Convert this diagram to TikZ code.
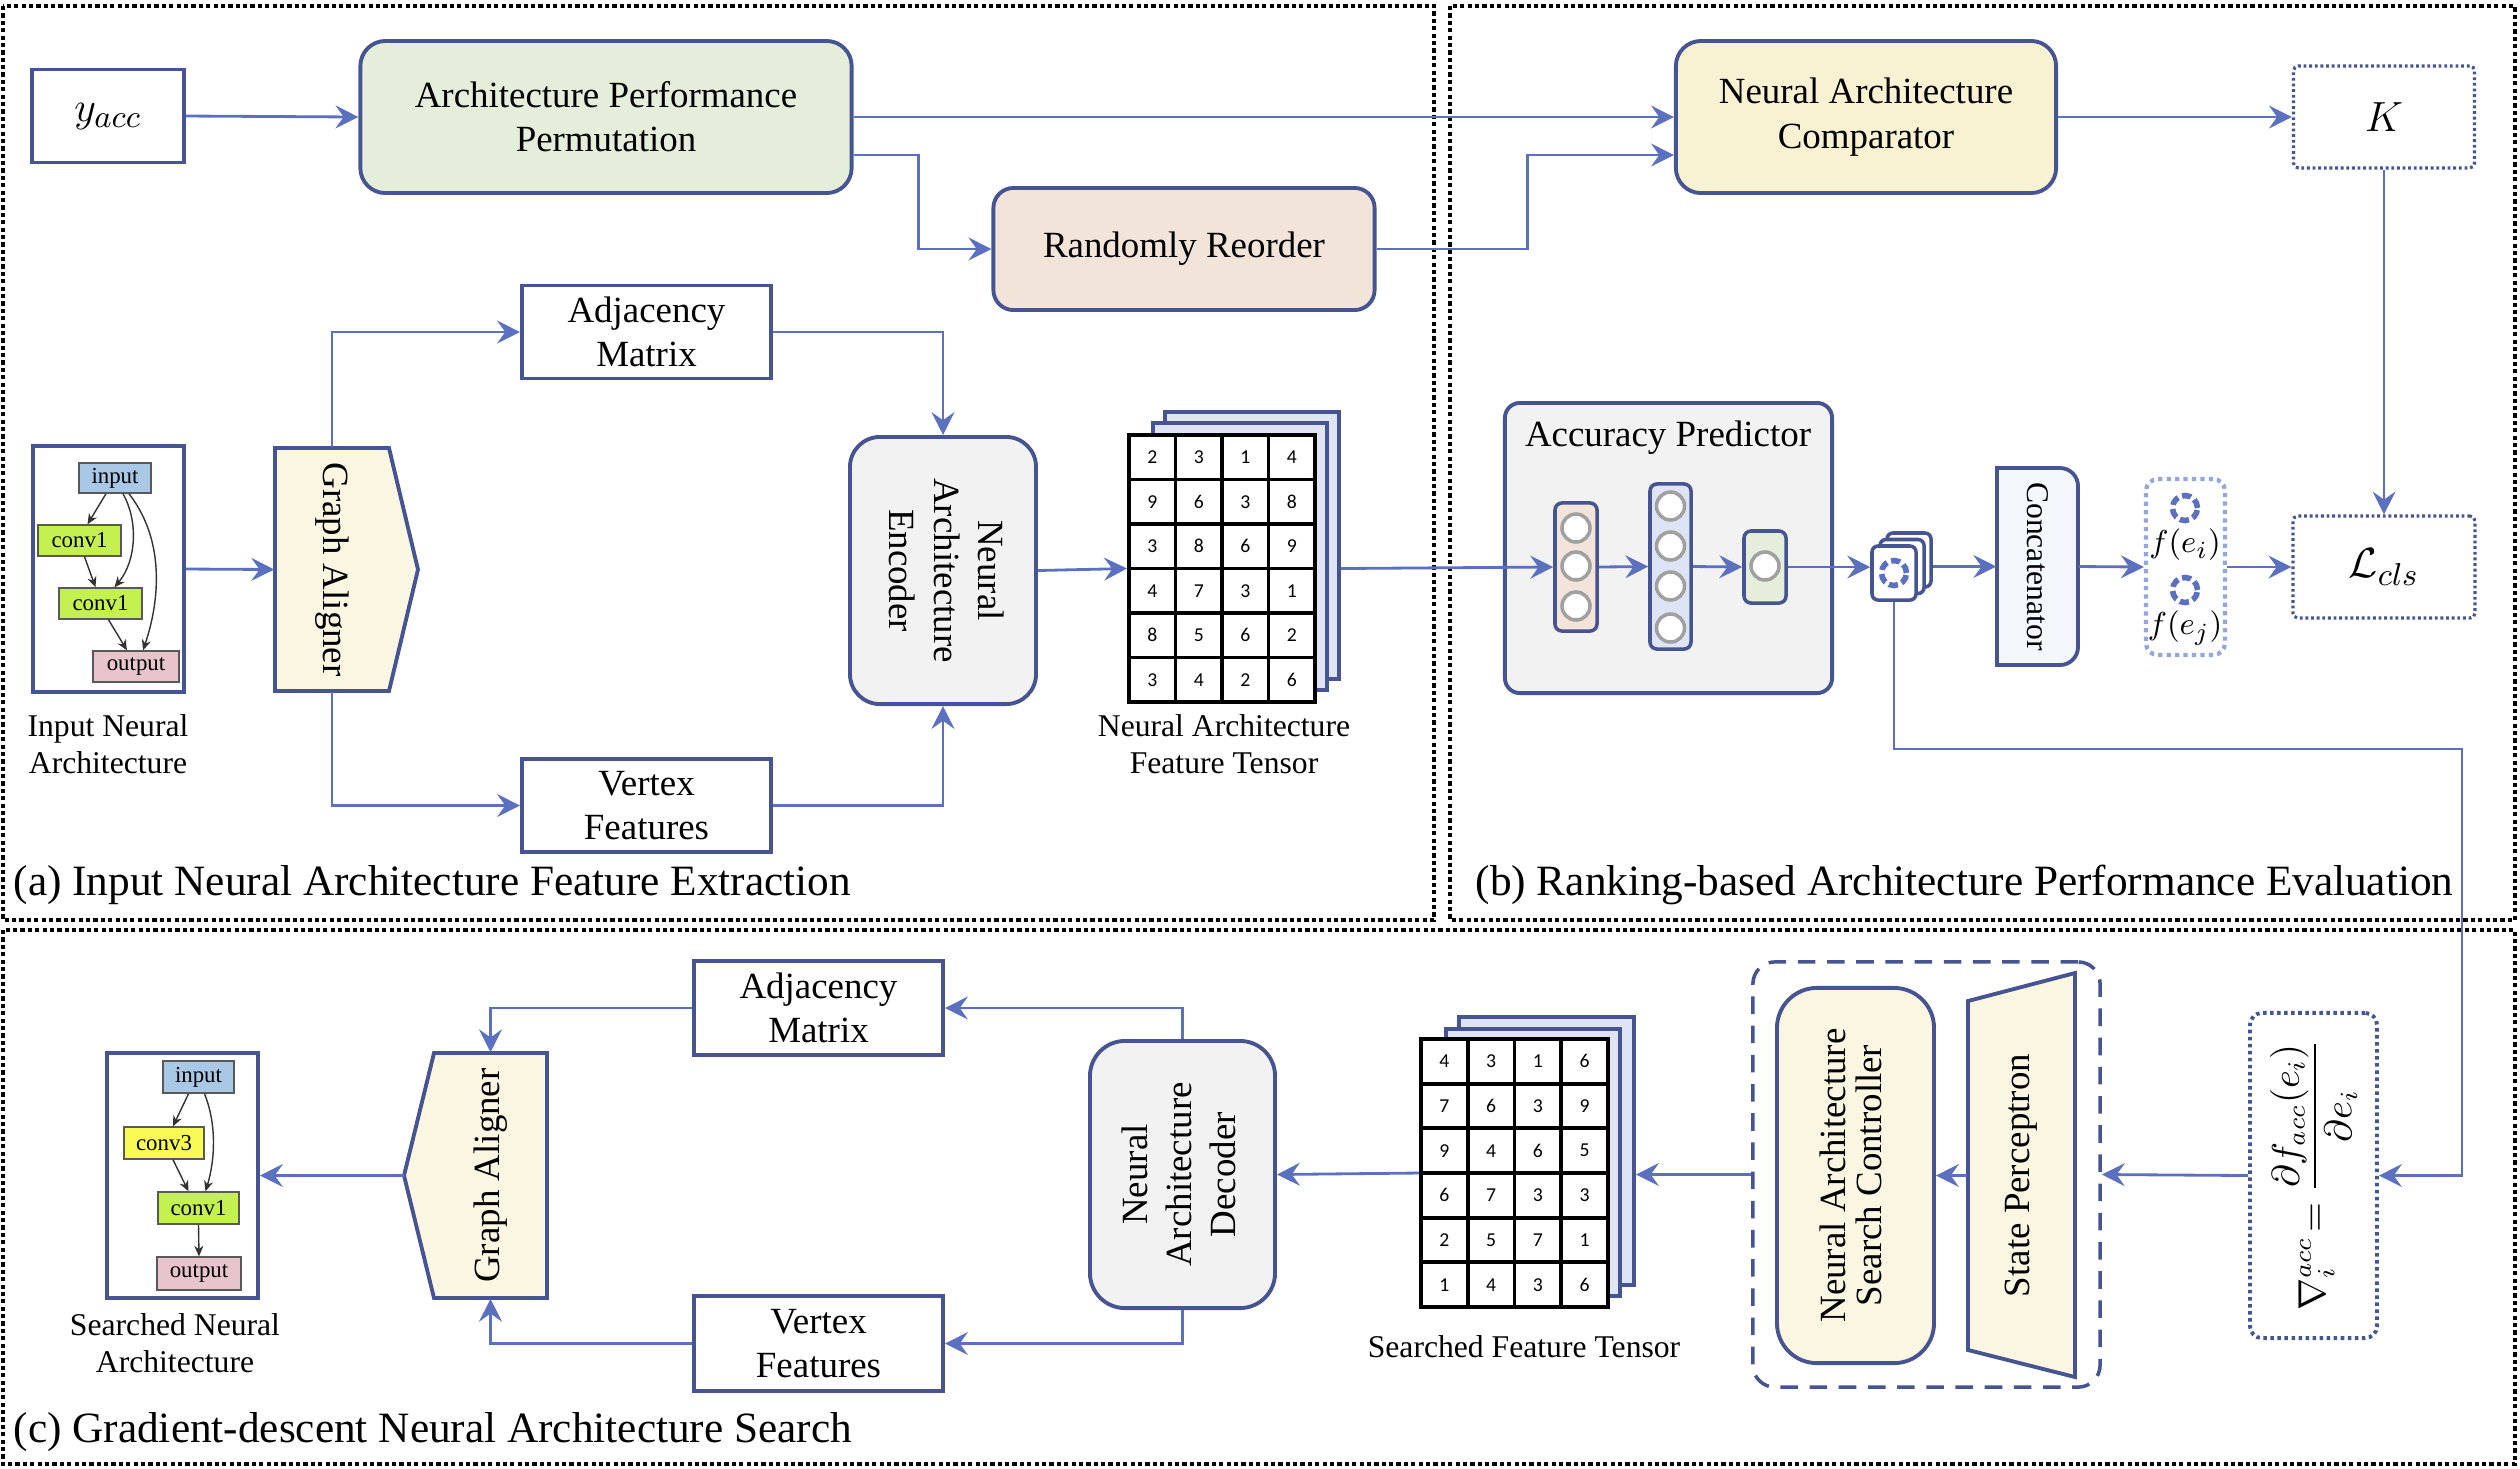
\documentclass[tikz,border=0pt]{standalone}
\usepackage{fontspec}
\setmainfont{Liberation Serif}
\newfontfamily\numfont{Carlito}
\usepackage{amsmath}
\usepackage{graphicx}
\usetikzlibrary{arrows.meta,calc}
\definecolor{navy}{RGB}{70,84,145}
\definecolor{arrowblue}{RGB}{92,112,192}
\definecolor{cgreen}{RGB}{228,238,219}
\definecolor{cyellow}{RGB}{248,242,210}
\definecolor{cpeach}{RGB}{242,228,216}
\definecolor{cgray}{RGB}{242,242,242}
\definecolor{ccream}{RGB}{250,246,226}
\definecolor{clayer}{RGB}{222,228,243}
\definecolor{cbluel}{RGB}{244,248,252}
\definecolor{fdot}{RGB}{150,165,220}
\definecolor{graycircle}{RGB}{160,160,160}
\definecolor{gblue}{RGB}{168,200,230}
\definecolor{glime}{RGB}{196,240,80}
\definecolor{gyellow}{RGB}{250,250,85}
\definecolor{gpink}{RGB}{232,196,204}
\tikzset{
 base/.style={font=\fontsize{10.5}{12.6}\selectfont, align=center, inner sep=0pt},
 box/.style={base, draw=navy, line width=1.1pt, fill=white},
 rbox/.style={box, rounded corners=0.25cm},
 arr/.style={draw=arrowblue, line width=0.8pt, -{Stealth[length=6.5pt,width=6.5pt,inset=2.3pt]}},
 secbox/.style={draw=black, line width=0.9pt, dash pattern=on 1.2pt off 0.9pt},
 seclabel/.style={font=\fontsize{12.3}{14.6}\selectfont, anchor=west, inner sep=0pt},
 smalltxt/.style={font=\fontsize{9}{10.6}\selectfont, align=center, inner sep=0pt},
 dotbox/.style={base, draw=navy, line width=0.9pt, dash pattern=on 0.8pt off 0.8pt, rounded corners=0.05cm},
 tlayer/.style={draw=navy, line width=1.1pt, fill=clayer, inner sep=0pt},
 gnode/.style={draw=black!65, line width=0.4pt, inner sep=0pt, font=\fontsize{6.5}{7}\selectfont},
 garr/.style={draw=black!80, line width=0.4pt, -{Stealth[length=3pt,width=2.6pt]}},
 nn/.style={circle, draw=graycircle, line width=1pt, fill=white, minimum size=0.28cm, inner sep=0pt},
 nlay/.style={draw=navy, line width=1pt, rounded corners=0.07cm, inner sep=0pt},
 num/.style={font=\numfont\fontsize{5.6}{6}\selectfont, inner sep=0pt},
 ringn/.style={circle, draw=arrowblue, line width=1.6pt, dash pattern=on 2.6pt off 1.2pt, minimum size=0.25cm, inner sep=0pt},
 card/.style={draw=navy, line width=1pt, fill=white, rounded corners=0.06cm, minimum width=0.44cm, minimum height=0.54cm, inner sep=0pt},
}
\begin{document}
\begin{tikzpicture}[x=0.01cm,y=-0.01cm]
\useasboundingbox (0,0) rectangle (2520,1468);

% section borders
\draw[secbox] (3,6) rectangle (1434,920);
\draw[secbox] (1450,6) rectangle (2515,920);
\draw[secbox] (3,930) rectangle (2515,1464);
\node[seclabel] (lab-a) at (13,885) {(a) Input Neural Architecture Feature Extraction};
\node[seclabel] (lab-b) at (1475,885) {(b) Ranking-based Architecture Performance Evaluation};
\node[seclabel] (lab-c) at (13,1432) {(c) Gradient-descent Neural Architecture Search};

% ---------- top row ----------
\node[box, minimum width=1.52cm, minimum height=0.93cm] (yacc) at (108,116) {\fontsize{13}{15}\selectfont$y_{acc}$};
\node[rbox, fill=cgreen, minimum width=4.91cm, minimum height=1.52cm] (app) at (606,117) {Architecture Performance\\Permutation};
\node[rbox, fill=cpeach, rounded corners=0.2cm, minimum width=3.81cm, minimum height=1.22cm] (rr) at (1184,249) {Randomly Reorder};
\node[rbox, fill=cyellow, minimum width=3.80cm, minimum height=1.52cm] (nac) at (1866,117) {Neural Architecture\\Comparator};
\node[dotbox, minimum width=1.81cm, minimum height=1.02cm] (K) at (2384,117) {\fontsize{12}{14}\selectfont$K$};
\node[dotbox, minimum width=1.82cm, minimum height=1.02cm] (lcls) at (2384,567) {\fontsize{13}{15}\selectfont$\mathcal{L}_{cls}$};

\draw[arr] (yacc.east) -- (app.west);
\draw[arr] (app.east) -- (nac.west);
\draw[arr] ($(app.east)+(0,38)$) -- ++(65,0) |- (rr.west);
\draw[arr] (rr.east) -- ++(151,0) |- ($(nac.west)+(0,38)$);
\draw[arr] (nac.east) -- (K.west);
\draw[arr] (K.south) -- (lcls.north);

% ---------- input architecture ----------
\node[box, minimum width=1.51cm, minimum height=2.46cm] (ina) at (108.5,569) {};
\node[gnode, fill=gblue, minimum width=0.72cm, minimum height=0.30cm] (in1) at (115,478) {input};
\node[gnode, fill=glime, minimum width=0.83cm, minimum height=0.31cm] (c1a) at (79.5,540.5) {conv1};
\node[gnode, fill=glime, minimum width=0.83cm, minimum height=0.31cm] (c1b) at (100.5,603.5) {conv1};
\node[gnode, fill=gpink, minimum width=0.86cm, minimum height=0.31cm] (out1) at (136,666.5) {output};
\draw[garr] ($(in1.south)+(-9,0)$) -- ($(c1a.north)+(8,0)$);
\draw[garr] ($(c1a.south)+(5,0)$) -- ($(c1b.north)+(-5,0)$);
\draw[garr] ($(in1.south)+(8,0)$) .. controls (138,520) and (137,560) .. ($(c1b.north)+(14,0)$);
\draw[garr] ($(in1.south)+(14,0)$) .. controls (165,540) and (160,600) .. ($(out1.north)+(7,0)$);
\draw[garr] ($(c1b.south)+(8,0)$) -- ($(out1.north)+(-9,0)$);
\node[smalltxt] (ina-l) at (108,744) {Input Neural\\Architecture};

% graph aligner (a)
\draw[navy, line width=1.1pt, fill=ccream] (275,448) -- (389,448) -- (418,569.5) -- (389,691) -- (275,691) -- cycle;
\node[base, minimum width=1.14cm, minimum height=2.43cm] (ga1) at (332,569.5) {\rotatebox{-90}{Graph Aligner}};
\draw[arr] (ina.east) -- (ga1.west);

\node[box, minimum width=2.49cm, minimum height=0.93cm] (adj1) at (646.5,332) {Adjacency\\Matrix};
\node[box, minimum width=2.49cm, minimum height=0.93cm] (vf1) at (646.5,805.5) {Vertex\\Features};
\node[rbox, fill=cgray, rounded corners=0.3cm, minimum width=1.86cm, minimum height=2.67cm] (enc) at (943,570.5) {\rotatebox{-90}{\begin{tabular}{@{}c@{}}Neural\\Architecture\\Encoder\end{tabular}}};
\draw[arr] (ga1.north) |- (adj1.west);
\draw[arr] (ga1.south) |- (vf1.west);
\draw[arr] (adj1.east) -| (enc.north);
\draw[arr] (vf1.east) -| (enc.south);

% feature tensor (a)
\node[tlayer, minimum width=1.74cm, minimum height=2.67cm] (ten1c) at (1252,545.5) {};
\node[tlayer, minimum width=1.74cm, minimum height=2.67cm] (ten1b) at (1240,556.5) {};
\node[draw=black, line width=1.1pt, fill=white, minimum width=1.86cm, minimum height=2.67cm, inner sep=0pt] (ten1) at (1222,568.5) {};
\foreach \k in {1,2,3} \draw[black, line width=1.1pt] ({1129+\k*46.5},435) -- ({1129+\k*46.5},702);
\foreach \k in {1,...,5} \draw[black, line width=1.1pt] (1129,{435+\k*44.5}) -- (1315,{435+\k*44.5});
\foreach \row [count=\j from 0] in {{2,3,1,4},{9,6,3,8},{3,8,6,9},{4,7,3,1},{8,5,6,2},{3,4,2,6}}
  \foreach \v [count=\i from 0] in \row
    \node[num] (t1-\j-\i) at ({1129+(\i+0.5)*46.5},{435+(\j+0.5)*44.5}) {\v};
\node[smalltxt] (ten1-l) at (1224,744) {Neural Architecture\\Feature Tensor};
\draw[arr] (enc.east) -- (ten1.west);

% ---------- accuracy predictor ----------
\node[box, fill=cgray, rounded corners=0.15cm, minimum width=3.27cm, minimum height=2.90cm] (ap) at (1668.5,548) {};
\node[base] (ap-t) at (1668,438) {Accuracy Predictor};
\node[nlay, fill=cpeach, minimum width=0.42cm, minimum height=1.28cm] (l1) at (1576,567) {};
\foreach \yy [count=\k] in {528,566,606} \node[nn] (l1-\k) at (1576,\yy) {};
\node[nlay, fill=clayer, minimum width=0.41cm, minimum height=1.65cm] (l2) at (1670.5,566.5) {};
\foreach \yy [count=\k] in {506,546,586,628} \node[nn] (l2-\k) at (1670.5,\yy) {};
\node[nlay, fill=cgreen, minimum width=0.42cm, minimum height=0.72cm] (l3) at (1765,567) {};
\node[nn] (l3-1) at (1765,566) {};
\draw[arr] (ten1c.east |- ten1.east) -- (l1.west);
\draw[arr] (l1.east) -- (l2.west);
\draw[arr] (l2.east) -- (l3.west);

% stacked embedding icon
\node[card] (card3) at (1909,560) {};
\node[card] (card2) at (1902,566.5) {};
\node[card] (card1) at (1894,573) {};
\node[ringn] (ring0) at (card1.center) {};
\draw[arr] (l3.east) -- (card1.west |- l3.east);

% concatenator
\path[draw=navy, line width=1.1pt, fill=cbluel, rounded corners=0.18cm] (1997,468) rectangle (2078,665);
\path[fill=cbluel] (1997,468) rectangle (2030,665);
\draw[navy, line width=1.1pt] (2030,468) -- (1997,468) -- (1997,665) -- (2030,665);
\node[base, font=\fontsize{9}{11}\selectfont, minimum width=0.81cm, minimum height=1.97cm] (cat) at (2037.5,566.5) {\rotatebox{-90}{Concatenator}};
\draw[arr] (card3.east |- cat.west) -- (cat.west);

% f box
\node[draw=fdot, line width=1.2pt, dash pattern=on 1.2pt off 1.2pt, rounded corners=0.12cm, minimum width=0.79cm, minimum height=1.76cm, inner sep=0pt] (fb) at (2185.5,567) {};
\node[ringn] (ring1) at (2185,508) {};
\node[ringn] (ring2) at (2185,590) {};
\node[base, font=\fontsize{9.5}{11}\selectfont] (fei) at (2185,545) {$f(e_i)$};
\node[base, font=\fontsize{9.5}{11}\selectfont] (fej) at (2185,628) {$f(e_j)$};
\draw[arr] (cat.east) -- (fb.west);
\draw[arr] (fb.east) -- (lcls.west);

% ---------- (c) ----------
\node[dotbox, line width=1.1pt, dash pattern=on 1pt off 1pt, rounded corners=0.12cm, minimum width=1.27cm, minimum height=3.25cm] (grad) at (2313.5,1175.5) {\rotatebox{90}{$\nabla_i^{acc}\!=\dfrac{\partial f_{acc}(e_i)}{\partial e_i}$}};
\draw[arr] (card1.south) |- (2462,749) |- (grad.east);

\node[draw=navy, line width=1pt, dash pattern=on 5pt off 3.3pt, rounded corners=0.22cm, minimum width=3.47cm, minimum height=4.25cm, inner sep=0pt] (grp) at (1926.5,1174.5) {};
\draw[navy, line width=1.1pt, fill=ccream] (1968,1001) -- (2075,973) -- (2075,1377) -- (1968,1350) -- cycle;
\node[base, minimum width=1.07cm, minimum height=3.49cm] (sp) at (2021.5,1175.5) {\rotatebox{90}{State Perceptron}};
\node[rbox, fill=ccream, rounded corners=0.4cm, minimum width=1.57cm, minimum height=3.75cm] (nasc) at (1855.5,1175.5) {\rotatebox{90}{\fontsize{10.5}{9.2}\selectfont\begin{tabular}{@{}c@{}}Neural Architecture\\Search Controller\end{tabular}}};
\draw[arr] (grad.west) -- (grp.east);
\draw[arr] (sp.west) -- (nasc.east);

% searched tensor
\node[tlayer, minimum width=1.75cm, minimum height=2.68cm] (ten2c) at (1546.5,1151) {};
\node[tlayer, minimum width=1.74cm, minimum height=2.67cm] (ten2b) at (1533,1162.5) {};
\node[draw=black, line width=1.1pt, fill=white, minimum width=1.87cm, minimum height=2.68cm, inner sep=0pt] (ten2) at (1514.5,1173) {};
\foreach \k in {1,2,3} \draw[black, line width=1.1pt] ({1421+\k*46.75},1039) -- ({1421+\k*46.75},1307);
\foreach \k in {1,...,5} \draw[black, line width=1.1pt] (1421,{1039+\k*44.67}) -- (1608,{1039+\k*44.67});
\foreach \row [count=\j from 0] in {{4,3,1,6},{7,6,3,9},{9,4,6,5},{6,7,3,3},{2,5,7,1},{1,4,3,6}}
  \foreach \v [count=\i from 0] in \row
    \node[num] (t2-\j-\i) at ({1421+(\i+0.5)*46.75},{1039+(\j+0.5)*44.67}) {\v};
\node[smalltxt] (ten2-l) at (1524,1347) {Searched Feature Tensor};
\draw[arr] (grp.west) -- (ten2c.east |- grp.west);

% decoder
\node[rbox, fill=cgray, rounded corners=0.35cm, minimum width=1.85cm, minimum height=2.67cm] (dec) at (1182.5,1174.5) {\rotatebox{90}{\begin{tabular}{@{}c@{}}Neural\\Architecture\\Decoder\end{tabular}}};
\draw[arr] (ten2.west) -- (dec.east);
\node[box, minimum width=2.49cm, minimum height=0.94cm] (adj2) at (818.5,1008) {Adjacency\\Matrix};
\node[box, minimum width=2.49cm, minimum height=0.95cm] (vf2) at (818.5,1343.5) {Vertex\\Features};
\draw[arr] (dec.north) |- (adj2.east);
\draw[arr] (dec.south) |- (vf2.east);

% graph aligner (c)
\draw[navy, line width=1.1pt, fill=ccream] (547,1053) -- (434,1053) -- (404,1175.5) -- (434,1298) -- (547,1298) -- cycle;
\node[base, minimum width=1.13cm, minimum height=2.45cm] (ga2) at (490.5,1175.5) {\rotatebox{90}{Graph Aligner}};
\coordinate (ga2tip) at (404,1175.5);
\draw[arr] (adj2.west) -| (ga2.north);
\draw[arr] (vf2.west) -| (ga2.south);

% searched architecture
\node[box, minimum width=1.51cm, minimum height=2.45cm] (sna) at (182.5,1175.5) {};
\node[gnode, fill=gblue, minimum width=0.71cm, minimum height=0.32cm] (in2) at (198.5,1077) {input};
\node[gnode, fill=gyellow, minimum width=0.80cm, minimum height=0.32cm] (c3) at (164,1143) {conv3};
\node[gnode, fill=glime, minimum width=0.81cm, minimum height=0.32cm] (c1) at (198.5,1208) {conv1};
\node[gnode, fill=gpink, minimum width=0.84cm, minimum height=0.33cm] (out2) at (199,1273.5) {output};
\draw[garr] ($(in2.south)+(-10,0)$) -- ($(c3.north)+(9,0)$);
\draw[garr] ($(in2.south)+(6,0)$) .. controls (217,1125) and (215,1160) .. ($(c1.north)+(7,0)$);
\draw[garr] ($(c3.south)+(9,0)$) -- ($(c1.north)+(-10,0)$);
\draw[garr] (c1.south) -- (out2.north);
\draw[arr] (ga2tip) -- (sna.east);
\node[smalltxt] (sna-l) at (175,1343.5) {Searched Neural\\Architecture};
\end{tikzpicture}
\end{document}
